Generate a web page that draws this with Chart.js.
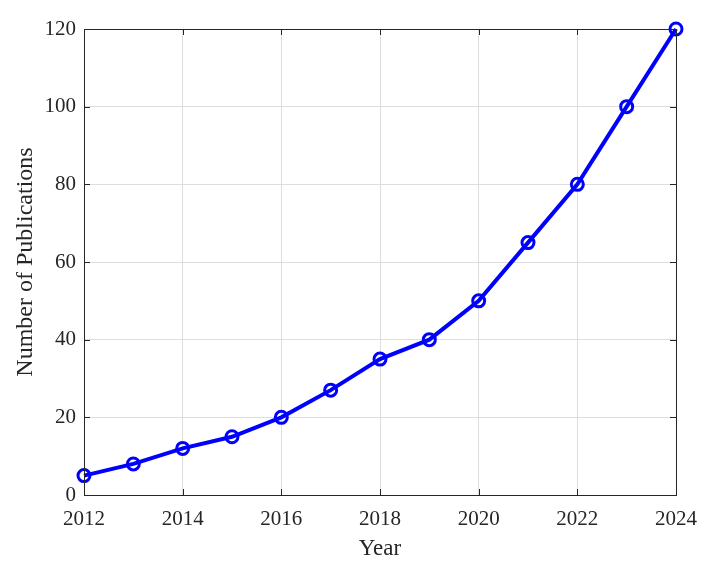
<!DOCTYPE html>
<html>
<head>
<meta charset="utf-8">
<script src="https://cdn.jsdelivr.net/npm/chart.js@4/dist/chart.umd.min.js"></script>
<style>
  html, body { margin: 0; padding: 0; background: #fff; }
  #wrap { width: 711px; height: 567px; }
</style>
</head>
<body>
<div id="wrap"><canvas id="pubChart" width="711" height="567"></canvas></div>
<script>
// data
const years = [2012, 2013, 2014, 2015, 2016, 2017, 2018, 2019, 2020, 2021, 2022, 2023, 2024];
const publications = [5, 8, 12, 15, 20, 27, 35, 40, 50, 65, 80, 100, 120];
const xTicks = [2012, 2014, 2016, 2018, 2020, 2022, 2024];
const yTicks = [0, 20, 40, 60, 80, 100, 120];

const axisColor = '#262626';
const serif = "'Liberation Serif', 'Times New Roman', serif";

// box around the plot + inward tick marks (MATLAB look)
const boxPlugin = {
    id: 'box',
    afterDatasetsDraw(chart) {
        const c = chart.ctx, a = chart.chartArea;
        const xs = chart.scales.x, ys = chart.scales.y;
        const len = 6;
        c.save();
        c.strokeStyle = axisColor;
        c.lineWidth = 1;
        c.beginPath();
        xTicks.forEach((v) => {
            const px = Math.round(xs.getPixelForValue(v)) + 0.5;
            c.moveTo(px, a.bottom); c.lineTo(px, a.bottom - len);
            c.moveTo(px, a.top); c.lineTo(px, a.top + len);
        });
        yTicks.forEach((v) => {
            const py = Math.round(ys.getPixelForValue(v)) + 0.5;
            c.moveTo(a.left, py); c.lineTo(a.left + len, py);
            c.moveTo(a.right, py); c.lineTo(a.right - len, py);
        });
        c.stroke();
        c.strokeRect(a.left + 0.5, a.top + 0.5, a.right - a.left, a.bottom - a.top);
        c.restore();
    }
};

new Chart(document.getElementById('pubChart').getContext('2d'), {
    type: 'line',
    data: {
        datasets: [{
            label: 'Publications',
            data: years.map((y, i) => ({ x: y, y: publications[i] })),
            borderColor: '#0000ff',
            borderWidth: 4,
            pointRadius: 6,
            pointBorderWidth: 3,
            pointBorderColor: '#0000ff',
            pointBackgroundColor: 'rgba(0,0,0,0)',
            pointStyle: 'circle',
            tension: 0,
            clip: false
        }]
    },
    options: {
        responsive: false,
        animation: false,
        layout: { padding: { top: 29, right: 35, left: 0, bottom: 0 } },
        plugins: {
            legend: { display: false },
            tooltip: { enabled: false }
        },
        scales: {
            x: {
                type: 'linear',
                min: 2012,
                max: 2024,
                afterBuildTicks: (s) => { s.ticks = xTicks.map((v) => ({ value: v })); },
                afterFit: (s) => { s.height = 72; },
                border: { display: false },
                grid: { color: '#dedede', lineWidth: 1, drawTicks: false },
                ticks: {
                    color: axisColor,
                    padding: 12,
                    maxRotation: 0,
                    font: { family: serif, size: 21 },
                    callback: (v) => String(v)
                },
                title: {
                    display: true,
                    text: 'Year',
                    color: axisColor,
                    font: { family: serif, size: 23 },
                    padding: { top: 0, bottom: 4 }
                }
            },
            y: {
                min: 0,
                max: 120,
                afterBuildTicks: (s) => { s.ticks = yTicks.map((v) => ({ value: v })); },
                afterFit: (s) => { s.width = 84; },
                border: { display: false },
                grid: { color: '#dedede', lineWidth: 1, drawTicks: false },
                ticks: {
                    color: axisColor,
                    padding: 8,
                    font: { family: serif, size: 21 }
                },
                title: {
                    display: true,
                    text: 'Number of Publications',
                    color: axisColor,
                    font: { family: serif, size: 24 },
                    padding: { top: 11, bottom: 0 }
                }
            }
        }
    },
    plugins: [boxPlugin]
});
</script>
</body>
</html>
